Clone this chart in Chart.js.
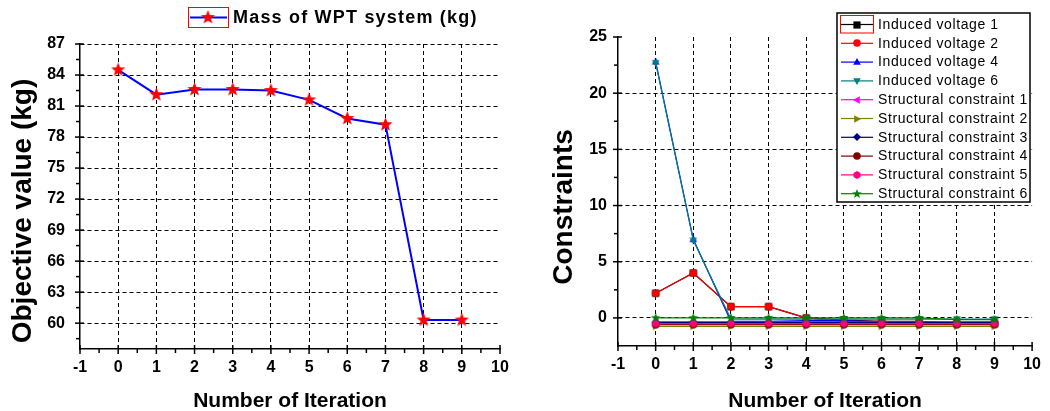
<!DOCTYPE html>
<html><head><meta charset="utf-8">
<script src="https://cdn.jsdelivr.net/npm/chart.js@4"></script>
<style>
html,body{margin:0;padding:0;background:#fff;width:1050px;height:411px;overflow:hidden}
.wrap{position:absolute;top:0;width:525px;height:411px}
#w1{left:0}#w2{left:525px}
canvas{display:block}
</style></head><body>
<div class="wrap" id="w1"><canvas id="c1" width="525" height="411"></canvas></div>
<div class="wrap" id="w2"><canvas id="c2" width="525" height="411"></canvas></div>
<script>
// ---------- data ----------
const iterations = [0, 1, 2, 3, 4, 5, 6, 7, 8, 9];
const massWPT = [84.5, 82.1, 82.6, 82.6, 82.5, 81.6, 79.8, 79.2, 60.3, 60.3];

const inducedVoltage1 = [2.2, 4.0, 1.0, 1.0, 0.0, -0.2, -0.3, -0.3, -0.5, -0.5];
const inducedVoltage2 = [2.2, 4.0, 1.0, 1.0, 0.0, -0.3, -0.3, -0.4, -0.45, -0.45];
const inducedVoltage4 = [22.8, 7.0, -0.3, -0.3, -0.25, -0.25, -0.35, -0.35, -0.4, -0.4];
const inducedVoltage6 = [22.7, 6.9, -0.1, -0.1, -0.1, -0.1, -0.1, -0.1, -0.1, -0.1];
const structural1 = [-0.35, -0.35, -0.35, -0.35, -0.35, -0.35, -0.35, -0.35, -0.35, -0.35];
const structural2 = [-0.75, -0.75, -0.75, -0.75, -0.75, -0.75, -0.75, -0.75, -0.75, -0.75];
const structural3 = [-0.4, -0.4, -0.4, -0.4, -0.4, -0.4, -0.4, -0.4, -0.4, -0.4];
const structural4 = [-0.6, -0.6, -0.6, -0.6, -0.6, -0.6, -0.6, -0.6, -0.6, -0.6];
const structural5 = [-0.5, -0.5, -0.5, -0.5, -0.5, -0.5, -0.5, -0.5, -0.5, -0.5];
const structural6 = [0.0, 0.0, 0.0, 0.0, 0.0, 0.0, 0.0, 0.0, -0.15, -0.15];

const xMajorTicks = [-1, 0, 1, 2, 3, 4, 5, 6, 7, 8, 9, 10];
const xMinorTicks = [-0.5, 0.5, 1.5, 2.5, 3.5, 4.5, 5.5, 6.5, 7.5, 8.5, 9.5];
const leftYMajorTicks = [60, 63, 66, 69, 72, 75, 78, 81, 84, 87];
const leftYMinorTicks = [58.5, 61.5, 64.5, 67.5, 70.5, 73.5, 76.5, 79.5, 82.5, 85.5];
const rightYMajorTicks = [0, 5, 10, 15, 20, 25];
const rightYMinorTicks = [2.5, 7.5, 12.5, 17.5, 22.5];

const leftLegendLabel = 'Mass of WPT system (kg)';
const rightLegendLabels = ['Induced voltage 1', 'Induced voltage 2', 'Induced voltage 4', 'Induced voltage 6',
  'Structural constraint 1', 'Structural constraint 2', 'Structural constraint 3',
  'Structural constraint 4', 'Structural constraint 5', 'Structural constraint 6'];
const xTitle = 'Number of Iteration';
const leftYTitle = 'Objective value (kg)';
const rightYTitle = 'Constraints';

// ---------- styling ----------
const FONT = '"Liberation Sans", Arial, sans-serif';

function markerCanvas(shape, color, size) {
  const s = Math.ceil(size) + 4;
  const c = document.createElement('canvas');
  c.width = s; c.height = s;
  const g = c.getContext('2d');
  g.translate(s / 2, s / 2);
  g.fillStyle = color;
  g.strokeStyle = color;
  const r = size / 2;
  g.beginPath();
  if (shape === 'square') {
    g.rect(-r * 0.9, -r * 0.9, r * 1.8, r * 1.8);
  } else if (shape === 'circle') {
    g.arc(0, 0, r * 0.95, 0, Math.PI * 2);
  } else if (shape === 'hexagon') {
    for (let i = 0; i < 6; i++) {
      const a = Math.PI / 6 + i * Math.PI / 3;
      g.lineTo(Math.cos(a) * r, Math.sin(a) * r);
    }
    g.closePath();
  } else if (shape === 'diamond') {
    g.moveTo(0, -r); g.lineTo(r, 0); g.lineTo(0, r); g.lineTo(-r, 0); g.closePath();
  } else if (shape.startsWith('tri')) {
    const rot = { triUp: 0, triDown: Math.PI, triLeft: -Math.PI / 2, triRight: Math.PI / 2 }[shape];
    g.rotate(rot);
    g.moveTo(0, -r); g.lineTo(r * 0.95, r * 0.7); g.lineTo(-r * 0.95, r * 0.7); g.closePath();
  } else if (shape === 'star') {
    const ri = r * 0.42;
    for (let i = 0; i < 10; i++) {
      const a = -Math.PI / 2 + i * Math.PI / 5;
      const rr = i % 2 === 0 ? r : ri;
      g.lineTo(Math.cos(a) * rr, Math.sin(a) * rr);
    }
    g.closePath();
  }
  g.fill();
  return c;
}

const bigStar = markerCanvas('star', '#ff0000', 15);

const rightSeries = [
  { data: inducedVoltage1, color: '#000000', shape: 'square' },
  { data: inducedVoltage2, color: '#ff0000', shape: 'circle' },
  { data: inducedVoltage4, color: '#0000ff', shape: 'triUp' },
  { data: inducedVoltage6, color: '#008080', shape: 'triDown' },
  { data: structural1, color: '#ff00ff', shape: 'triLeft' },
  { data: structural2, color: '#808000', shape: 'triRight' },
  { data: structural3, color: '#000080', shape: 'diamond' },
  { data: structural4, color: '#800000', shape: 'circle' },
  { data: structural5, color: '#ff0080', shape: 'hexagon' },
  { data: structural6, color: '#008000', shape: 'star' },
];
rightSeries.forEach(s => { s.marker = markerCanvas(s.shape, s.color, s.shape === 'star' ? 10 : 8); });

// ---------- plugins ----------
function setTicks(majors, minors) {
  return scale => {
    scale.ticks = majors.concat(minors).sort((a, b) => a - b).map(v => ({ value: v }));
  };
}

const customAxisPlugin = {
  id: 'customAxis',
  afterDraw(chart, args, opts) {
    const ctx = chart.ctx;
    const xs = chart.scales.x, ys = chart.scales.y;
    const area = chart.chartArea;
    ctx.save();
    ctx.strokeStyle = '#000';
    ctx.lineWidth = 1.5;
    // x ticks
    xs.ticks.forEach(t => {
      const px = xs.getPixelForValue(t.value);
      const major = opts.xMajor.includes(t.value);
      ctx.beginPath();
      if (major) { ctx.moveTo(px, area.bottom - 4); ctx.lineTo(px, area.bottom + 5); }
      else { ctx.moveTo(px, area.bottom); ctx.lineTo(px, area.bottom + 4); }
      ctx.stroke();
    });
    ys.ticks.forEach(t => {
      const py = ys.getPixelForValue(t.value);
      const major = opts.yMajor.includes(t.value);
      ctx.beginPath();
      if (major) { ctx.moveTo(area.left - 5, py); ctx.lineTo(area.left + 4, py); }
      else { ctx.moveTo(area.left - 4, py); ctx.lineTo(area.left, py); }
      ctx.stroke();
    });
    // titles
    ctx.fillStyle = '#000';
    ctx.font = 'bold 21px ' + FONT;
    ctx.textAlign = 'center';
    ctx.textBaseline = 'alphabetic';
    ctx.fillText(opts.xTitle, (area.left + area.right) / 2, opts.xTitleY);
    ctx.save();
    ctx.font = 'bold 28px ' + FONT;
    ctx.translate(opts.yTitleX, opts.yTitleY);
    ctx.rotate(-Math.PI / 2);
    ctx.fillText(opts.yTitle, 0, 0);
    ctx.restore();
    ctx.restore();
  }
};

const leftLegendPlugin = {
  id: 'leftLegend',
  afterDraw(chart) {
    const ctx = chart.ctx;
    ctx.save();
    ctx.strokeStyle = '#ff0000';
    ctx.lineWidth = 1;
    ctx.strokeRect(188.5, 7.5, 40, 20);
    ctx.strokeStyle = '#0000ff';
    ctx.lineWidth = 2;
    ctx.beginPath(); ctx.moveTo(190, 17.5); ctx.lineTo(227, 17.5); ctx.stroke();
    ctx.drawImage(bigStar, 208 - bigStar.width / 2, 17.5 - bigStar.height / 2);
    ctx.fillStyle = '#000';
    ctx.font = 'bold 18px ' + FONT;
    try { ctx.letterSpacing = '1.2px'; } catch (e) {}
    ctx.textAlign = 'left';
    ctx.textBaseline = 'middle';
    ctx.fillText(leftLegendLabel, 233, 18);
    ctx.restore();
  }
};

const rightLegendPlugin = {
  id: 'rightLegend',
  afterDraw(chart) {
    const ctx = chart.ctx;
    ctx.save();
    ctx.fillStyle = '#fff';
    ctx.fillRect(312, 13, 193, 189);
    ctx.strokeStyle = '#000';
    ctx.lineWidth = 1.5;
    ctx.strokeRect(312, 13, 193, 189);
    ctx.font = '14px ' + FONT;
    try { ctx.letterSpacing = '0.6px'; } catch (e) {}
    ctx.textAlign = 'left';
    ctx.textBaseline = 'middle';
    rightSeries.forEach((s, i) => {
      const y = 24.5 + i * 18.8;
      ctx.strokeStyle = s.color;
      ctx.lineWidth = 1.2;
      ctx.beginPath(); ctx.moveTo(316, y); ctx.lineTo(348, y); ctx.stroke();
      ctx.drawImage(s.marker, Math.round(332 - s.marker.width / 2), Math.round(y - s.marker.height / 2));
      ctx.fillStyle = '#000';
      ctx.fillText(rightLegendLabels[i], 353, y + 0.5);
    });
    ctx.strokeStyle = '#ff0000';
    ctx.lineWidth = 1;
    ctx.strokeRect(315.5, 15.5, 33, 17.5);
    ctx.restore();
  }
};

function gridColor(majors, skip) {
  return c => {
    const v = c.tick ? c.tick.value : null;
    return (majors.includes(v) && !skip.includes(v)) ? '#000' : 'rgba(0,0,0,0)';
  };
}

function baseScales(cfg) {
  return {
    x: {
      type: 'linear', min: -1, max: 10,
      afterBuildTicks: setTicks(xMajorTicks, xMinorTicks),
      afterFit: s => { s.height = cfg.xHeight; },
      grid: { color: gridColor(xMajorTicks, [-1, 10]), lineWidth: 1, drawTicks: false },
      border: { display: true, color: '#000', width: 1.5, dash: [4, 3] },
      ticks: {
        autoSkip: false, maxRotation: 0, padding: 9, color: '#000',
        font: { family: FONT, size: 16, weight: 'bold' },
        callback: v => xMajorTicks.includes(v) ? String(v) : ''
      }
    },
    y: {
      type: 'linear', min: cfg.yMin, max: cfg.yMax,
      afterBuildTicks: setTicks(cfg.yMajor, cfg.yMinor),
      afterFit: s => { s.width = cfg.yWidth; },
      grid: { color: gridColor(cfg.yMajor, cfg.ySkip), lineWidth: 1, drawTicks: false },
      border: { display: true, color: '#000', width: 1.5, dash: [4, 3] },
      ticks: {
        autoSkip: false, padding: cfg.yPad, color: '#000',
        font: { family: FONT, size: 16, weight: 'bold' },
        callback: v => cfg.yMajor.includes(v) ? String(v) : ''
      }
    }
  };
}

// ---------- left chart ----------
new Chart(document.getElementById('c1'), {
  type: 'line',
  data: {
    datasets: [{
      label: leftLegendLabel,
      data: iterations.map((x, i) => ({ x, y: massWPT[i] })),
      borderColor: '#0000ff',
      borderWidth: 2,
      pointStyle: bigStar,
      pointRadius: 7,
      tension: 0,
      fill: false
    }]
  },
  options: {
    responsive: false, animation: false, events: [],
    layout: { padding: { left: 0, right: 25, top: 44, bottom: 0 } },
    plugins: {
      legend: { display: false }, tooltip: { enabled: false },
      customAxis: { xMajor: xMajorTicks, yMajor: leftYMajorTicks, xTitle, xTitleY: 407,
        yTitle: leftYTitle, yTitleX: 31, yTitleY: 211 }
    },
    scales: baseScales({ xHeight: 62, yMin: 57.5, yMax: 87, yMajor: leftYMajorTicks,
      yMinor: leftYMinorTicks, ySkip: [], yWidth: 80, yPad: 15 })
  },
  plugins: [customAxisPlugin, leftLegendPlugin]
});

// ---------- right chart ----------
new Chart(document.getElementById('c2'), {
  type: 'line',
  data: {
    datasets: rightSeries.map((s, i) => ({
      label: rightLegendLabels[i],
      data: iterations.map((x, j) => ({ x, y: s.data[j] })),
      borderColor: s.color,
      backgroundColor: s.color,
      borderWidth: 1.2,
      pointStyle: s.marker,
      pointRadius: 4,
      tension: 0,
      fill: false,
      order: rightSeries.length - i
    }))
  },
  options: {
    responsive: false, animation: false, events: [],
    layout: { padding: { left: 0, right: 11, top: 37, bottom: 0 } },
    plugins: {
      legend: { display: false }, tooltip: { enabled: false },
      customAxis: { xMajor: xMajorTicks, yMajor: rightYMajorTicks, xTitle, xTitleY: 407,
        yTitle: rightYTitle, yTitleX: 47, yTitleY: 207 }
    },
    scales: baseScales({ xHeight: 65, yMin: -2.5, yMax: 25, yMajor: rightYMajorTicks,
      yMinor: rightYMinorTicks, ySkip: [25], yWidth: 93, yPad: 11 })
  },
  plugins: [customAxisPlugin, rightLegendPlugin]
});
</script>
</body></html>
